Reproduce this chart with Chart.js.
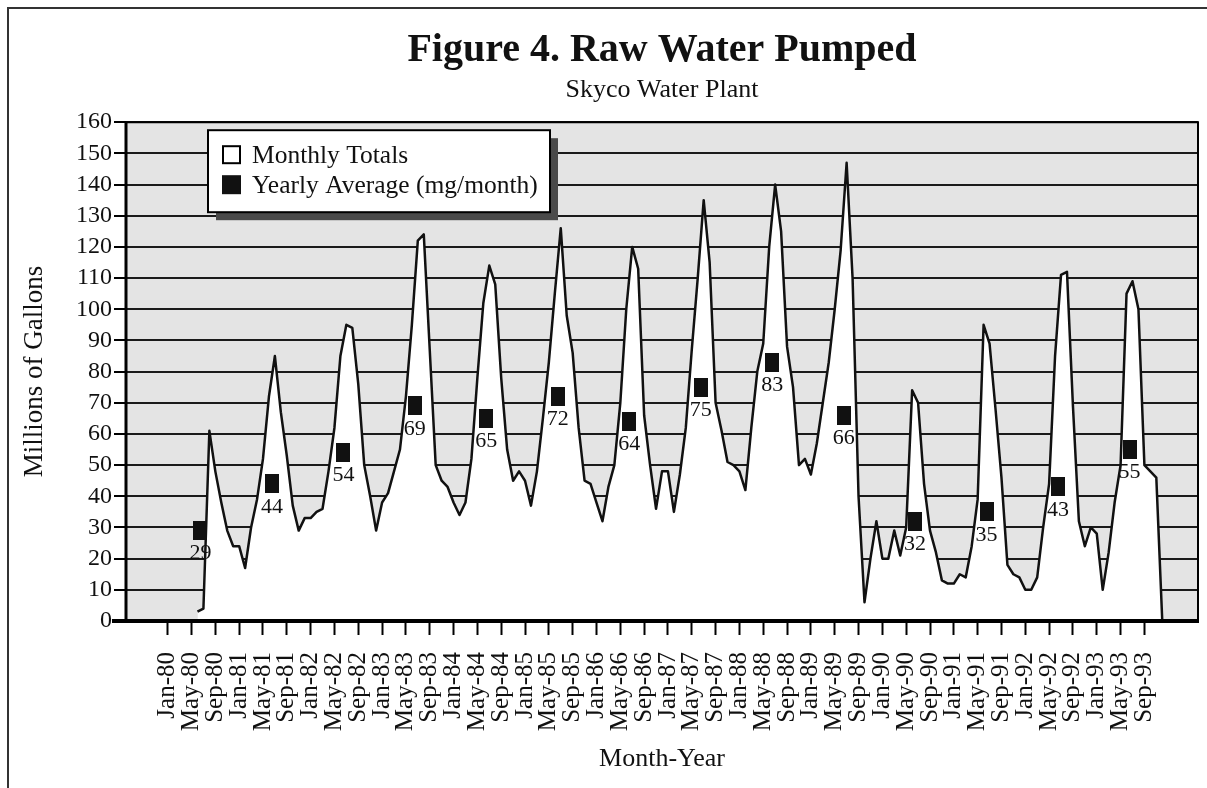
<!DOCTYPE html>
<html>
<head>
<meta charset="utf-8">
<title>Raw Water Pumped</title>
<script src="https://cdn.jsdelivr.net/npm/chart.js@4.4.1/dist/chart.umd.min.js"></script>
<style>
  html, body { margin: 0; padding: 0; background: #fff; }
  #wrap { position: relative; width: 1207px; height: 788px; }
</style>
</head>
<body>
<div id="wrap"><canvas id="chart" width="1207" height="788"></canvas></div>
<script>
// monthly totals, million gallons, first value is Jun-80 (month 5 counted from Jan-80)
const monthlyStart = 5;
const monthlyTotals = [
  3, 4, 61, 48, 38, 29, 24,                          // 1980 Jun-Dec
  24, 17, 30, 39, 52, 72, 85, 67, 53, 37, 29, 33,     // 1981
  33, 35, 36, 48, 62, 85, 95, 94, 76, 50, 40, 29,     // 1982
  38, 41, 48, 55, 72, 95, 122, 124, 87, 50, 45, 43,   // 1983
  38, 34, 38, 52, 78, 102, 114, 108, 78, 55, 45, 48,  // 1984
  45, 37, 48, 65, 83, 105, 126, 98, 86, 62, 45, 44,   // 1985
  38, 32, 43, 50, 70, 100, 120, 113, 66, 50, 36, 48,  // 1986
  48, 35, 47, 62, 87, 110, 135, 115, 70, 61, 51, 50,  // 1987
  48, 42, 62, 80, 89, 120, 140, 125, 88, 75, 50, 52,  // 1988
  47, 57, 70, 83, 100, 119, 147, 110, 40, 6, 20, 32,  // 1989
  20, 20, 29, 21, 30, 74, 70, 44, 29, 22, 13, 12,     // 1990
  12, 15, 14, 24, 39, 95, 89, 68, 46, 18, 15, 14,     // 1991
  10, 10, 14, 30, 44, 85, 111, 112, 69, 32, 24, 30,   // 1992
  28, 10, 22, 38, 50, 105, 109, 100, 50, 48, 46, 0    // 1993
];

// yearly average (mg/month), 1980..1993
const avgYears = [1980, 1981, 1982, 1983, 1984, 1985, 1986, 1987, 1988, 1989, 1990, 1991, 1992, 1993];
const yearlyAvg = [29, 44, 54, 69, 65, 72, 64, 75, 83, 66, 32, 35, 43, 55];

// x tick labels, one every 4 months from Jan-80
const tickLabels = ['Jan-80','May-80','Sep-80','Jan-81','May-81','Sep-81','Jan-82','May-82','Sep-82',
  'Jan-83','May-83','Sep-83','Jan-84','May-84','Sep-84','Jan-85','May-85','Sep-85','Jan-86','May-86',
  'Sep-86','Jan-87','May-87','Sep-87','Jan-88','May-88','Sep-88','Jan-89','May-89','Sep-89','Jan-90',
  'May-90','Sep-90','Jan-91','May-91','Sep-91','Jan-92','May-92','Sep-92','Jan-93','May-93','Sep-93'];

const serif = '"Liberation Serif", "Times New Roman", serif';
Chart.defaults.font.family = serif;
Chart.defaults.color = '#000';

// tall black block used as the yearly average marker
const marker = document.createElement('canvas');
marker.width = 14; marker.height = 19;
const mctx = marker.getContext('2d');
mctx.fillStyle = '#111';
mctx.fillRect(0, 0, 14, 19);

// gray plot background + page frame
const plotBg = {
  id: 'plotBg',
  beforeDraw(chart) {
    const { ctx, chartArea: a } = chart;
    ctx.save();
    ctx.strokeStyle = '#333';
    ctx.lineWidth = 2;
    ctx.beginPath();
    ctx.moveTo(1207, 8); ctx.lineTo(8, 8); ctx.lineTo(8, 788);
    ctx.stroke();
    ctx.fillStyle = '#e4e4e4';
    ctx.fillRect(a.left, a.top, a.right - a.left, a.bottom - a.top);
    ctx.restore();
  }
};

// axis frame + value labels under the average markers
const frameAndLabels = {
  id: 'frameAndLabels',
  afterDatasetsDraw(chart) {
    const { ctx, chartArea: a } = chart;
    ctx.save();
    ctx.strokeStyle = '#000';
    ctx.lineWidth = 2;
    ctx.beginPath();
    ctx.moveTo(a.left, a.top); ctx.lineTo(a.right, a.top); ctx.lineTo(a.right, a.bottom);
    ctx.stroke();
    ctx.lineWidth = 3;
    ctx.beginPath();
    ctx.moveTo(a.left, a.top); ctx.lineTo(a.left, a.bottom + 1);
    ctx.stroke();
    ctx.lineWidth = 4;
    ctx.beginPath();
    ctx.moveTo(a.left - 14, a.bottom); ctx.lineTo(a.right + 1, a.bottom);
    ctx.stroke();

    const meta = chart.getDatasetMeta(1);
    ctx.fillStyle = '#111';
    ctx.font = '22px ' + serif;
    ctx.textAlign = 'center';
    ctx.textBaseline = 'middle';
    meta.data.forEach((pt, i) => {
      ctx.fillText(String(yearlyAvg[i]), pt.x, pt.y + 23);
    });
    ctx.restore();
  }
};

// boxed legend with drop shadow inside the plot
const boxLegend = {
  id: 'boxLegend',
  afterDraw(chart) {
    const { ctx, chartArea: a } = chart;
    const x = a.left + 82, y = a.top + 8, w = 342, h = 82;
    ctx.save();
    ctx.fillStyle = '#4a4a4a';
    ctx.fillRect(x + 8, y + 8, w, h);
    ctx.fillStyle = '#fff';
    ctx.fillRect(x, y, w, h);
    ctx.strokeStyle = '#000';
    ctx.lineWidth = 2;
    ctx.strokeRect(x, y, w, h);

    const ds = chart.data.datasets;
    ctx.font = '25.5px ' + serif;
    ctx.textBaseline = 'middle';
    ctx.textAlign = 'left';
    // hollow square
    ctx.fillStyle = '#fff';
    ctx.fillRect(x + 15, y + 16, 17, 17);
    ctx.strokeRect(x + 15, y + 16, 17, 17);
    ctx.fillStyle = '#111';
    ctx.fillText(ds[0].label, x + 44, y + 26);
    // filled square
    ctx.fillRect(x + 14, y + 45, 19, 19);
    ctx.fillText(ds[1].label, x + 44, y + 56);
    ctx.restore();
  }
};

new Chart(document.getElementById('chart'), {
  type: 'line',
  data: {
    datasets: [
      {
        label: 'Monthly Totals',
        data: monthlyTotals.map((v, i) => ({ x: monthlyStart + i, y: v })),
        borderColor: '#111',
        borderWidth: 2.5,
        borderJoinStyle: 'round',
        backgroundColor: '#fff',
        fill: 'origin',
        pointRadius: 0,
        tension: 0,
        order: 1
      },
      {
        label: 'Yearly Average (mg/month)',
        data: avgYears.map((yr, i) => ({ x: (yr - 1980) * 12 + 5.5, y: yearlyAvg[i] })),
        showLine: false,
        pointStyle: marker,
        pointRadius: 8,
        order: 0
      }
    ]
  },
  options: {
    responsive: false,
    devicePixelRatio: 1,
    animation: false,
    layout: { padding: { left: 0, right: 9, top: 0, bottom: 0 } },
    plugins: {
      legend: { display: false },
      tooltip: { enabled: false },
      title: {
        display: true,
        text: 'Figure 4. Raw Water Pumped',
        fullSize: false,
        color: '#111',
        font: { size: 40, weight: 'bold', family: serif },
        padding: { top: 27, bottom: 0 }
      },
      subtitle: {
        display: true,
        text: 'Skyco Water Plant',
        fullSize: false,
        color: '#111',
        font: { size: 26, family: serif },
        padding: { top: 0, bottom: 16 }
      }
    },
    scales: {
      x: {
        type: 'linear',
        min: -7,
        max: 173,
        afterBuildTicks: (scale) => {
          scale.ticks = tickLabels.map((_, i) => ({ value: i * 4 }));
        },
        afterFit: (scale) => { scale.height = 167; },
        border: { display: false },
        grid: {
          drawOnChartArea: false,
          drawTicks: true,
          tickLength: 14,
          tickWidth: 2,
          tickColor: '#000'
        },
        ticks: {
          autoSkip: false,
          minRotation: 90,
          maxRotation: 90,
          padding: 17,
          color: '#111',
          font: { size: 25, family: serif },
          callback: (value, index) => tickLabels[index]
        },
        title: {
          display: true,
          text: 'Month-Year',
          color: '#111',
          font: { size: 26, family: serif },
          padding: { top: 0, bottom: 13 }
        }
      },
      y: {
        min: 0,
        max: 160,
        afterFit: (scale) => { scale.width = 126; },
        border: { display: false },
        grid: {
          color: '#1a1a1a',
          lineWidth: 2,
          tickLength: 12,
          tickWidth: 2,
          tickColor: '#000'
        },
        ticks: {
          stepSize: 10,
          autoSkip: false,
          padding: 2,
          color: '#111',
          font: { size: 24, family: serif }
        },
        title: {
          display: true,
          text: 'Millions of Gallons',
          color: '#111',
          font: { size: 27, family: serif },
          padding: { top: 19, bottom: 0 }
        }
      }
    }
  },
  plugins: [plotBg, frameAndLabels, boxLegend]
});
</script>
</body>
</html>
